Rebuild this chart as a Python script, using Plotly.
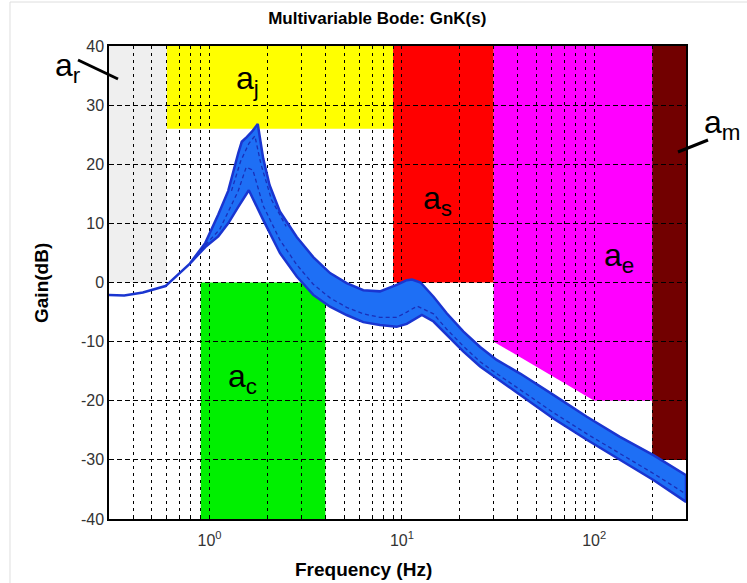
import plotly.graph_objects as go

# ---------------- data ----------------
upper_freq = [0.30, 0.36, 0.45, 0.59, 0.79, 0.95, 1.11, 1.25, 1.41, 1.47, 1.56, 1.66, 1.78,
              1.90, 2.05, 2.32, 2.84, 3.46, 4.23, 5.16, 6.30, 7.69, 9.39, 10.6, 11.3, 12.5,
              14.6, 17.1, 20.9, 25.5, 31.1, 38.0, 41.2, 61.3, 91.5, 136, 203, 300]
upper_db = [-2.1, -2.2, -1.7, -0.6, 3.2, 6.7, 11.5, 15.5, 21.9, 23.8, 24.6, 25.5, 26.8,
            21.0, 16.5, 12.0, 7.7, 4.3, 1.6, -0.1, -1.3, -1.5, -0.4, 0.4, 0.5, 0.0,
            -2.4, -5.2, -8.3, -10.9, -13.1, -14.8, -15.4, -19.0, -22.7, -26.1, -29.2, -32.6]

lower_freq = [0.30, 0.36, 0.45, 0.59, 0.79, 0.95, 1.11, 1.25, 1.41, 1.60, 1.75, 1.90,
              2.32, 2.84, 3.46, 4.23, 5.16, 6.30, 7.69, 9.39, 10.6, 12.7, 14.6, 17.1,
              20.9, 25.5, 31.1, 41.2, 61.3, 91.5, 136, 203, 300]
lower_db = [-2.1, -2.2, -1.7, -0.6, 3.2, 6.0, 7.8, 10.0, 12.8, 15.6, 13.1, 10.6,
            5.0, 1.0, -2.1, -4.1, -5.5, -6.7, -7.2, -7.5, -7.0, -5.5, -6.6, -8.9,
            -11.7, -14.2, -16.2, -19.0, -23.0, -26.6, -30.0, -33.4, -37.1]

nominal_freq = [0.90, 1.13, 1.41, 1.55, 1.68, 1.90, 2.32, 2.84, 3.46, 4.23, 5.16, 6.30,
                7.69, 9.39, 10.6, 12.0, 14.6, 17.1, 20.9, 25.5, 31.1, 41.2, 61.3, 91.5,
                136, 203, 300]
nominal_db = [5.5, 9.0, 15.5, 19.5, 19.0, 13.0, 7.2, 3.0, -0.3, -2.6, -4.2, -5.3,
              -5.9, -5.9, -5.0, -4.0, -5.3, -7.9, -10.8, -13.4, -15.4, -18.1, -22.0,
              -25.6, -29.0, -32.3, -35.8]

peak_dash_freq = [1.30, 1.45, 1.60, 1.72, 1.85, 2.10, 2.50]
peak_dash_db = [15.5, 20.5, 23.5, 24.8, 20.0, 14.0, 9.5]

# specification regions (frequency in Hz, gain in dB)
region_ar = {"f": [0.3, 0.6], "db": [0, 40]}
region_aj = {"f": [0.6, 9], "db": [26, 40]}
region_as = {"f": [9, 30], "db": [0, 40]}
region_ae_f = [30, 30, 100, 200, 200]
region_ae_db = [40, -10, -20, -20, 40]
region_am = {"f": [200, 300], "db": [-30, 40]}
region_ac = {"f": [0.9, 4], "db": [-40, 0]}

x_grid_vals = [0.4, 0.5, 0.6, 0.7, 0.8, 0.9, 1, 2, 3, 4, 5, 6, 7, 8, 9, 10,
               20, 30, 40, 50, 60, 70, 80, 90, 100, 200, 300]
x_tick_labels = {1: "10<sup>0</sup>", 10: "10<sup>1</sup>", 100: "10<sup>2</sup>"}
y_ticks = [-40, -30, -20, -10, 0, 10, 20, 30, 40]

FONT = "Liberation Sans, Arial"

# ---------------- figure ----------------
fig = go.Figure()

band_x = upper_freq + lower_freq[::-1]
band_y = upper_db + lower_db[::-1]
fig.add_trace(go.Scatter(x=band_x, y=band_y, mode="lines", fill="toself",
                         fillcolor="#1e6ff5", line=dict(color="#1a35d0", width=2.5),
                         hoverinfo="skip", showlegend=False))
fig.add_trace(go.Scatter(x=nominal_freq, y=nominal_db, mode="lines",
                         line=dict(color="#1a2fb8", width=1.3, dash="4px,3px"),
                         showlegend=False))
fig.add_trace(go.Scatter(x=peak_dash_freq, y=peak_dash_db, mode="lines",
                         line=dict(color="#1a2fb8", width=1.3, dash="4px,3px"),
                         showlegend=False))

shapes = []
def rect(reg, color):
    shapes.append(dict(type="rect", xref="x", yref="y", layer="below",
                       x0=reg["f"][0], x1=reg["f"][1], y0=reg["db"][0], y1=reg["db"][1],
                       fillcolor=color, line=dict(width=0)))

rect(region_ar, "#efefef")
rect(region_aj, "#ffff00")
rect(region_as, "#ff0000")
rect(region_am, "#720000")
rect(region_ac, "#00f000")
path = "M " + " L ".join(f"{f},{d}" for f, d in zip(region_ae_f, region_ae_db)) + " Z"
shapes.append(dict(type="path", xref="x", yref="y", layer="below", path=path,
                   fillcolor="#ff00ff", line=dict(width=0)))

# pointer lines for a_r and a_m
shapes.append(dict(type="line", xref="paper", yref="paper", layer="above",
                   x0=-0.0537, y0=0.9704, x1=0.0156, y1=0.9302,
                   line=dict(color="black", width=3)))
shapes.append(dict(type="line", xref="paper", yref="paper", layer="above",
                   x0=1.0381, y0=0.8013, x1=0.9861, y1=0.7759,
                   line=dict(color="black", width=3)))
# light window border
shapes.append(dict(type="line", xref="paper", yref="paper", layer="above",
                   x0=-0.1716, y0=1.0930, x1=1.2, y1=1.0930,
                   line=dict(color="#dedede", width=1)))
shapes.append(dict(type="line", xref="paper", yref="paper", layer="above",
                   x0=-0.1716, y0=1.0930, x1=-0.1716, y1=-0.2,
                   line=dict(color="#dedede", width=1)))

labels = [("a<sub>j</sub>", 0.2392, 0.9281), ("a<sub>s</sub>", 0.5685, 0.6744),
          ("a<sub>e</sub>", 0.8839, 0.5539), ("a<sub>c</sub>", 0.2322, 0.2960),
          ("a<sub>r</sub>", -0.0711, 0.9535), ("a<sub>m</sub>", 1.0624, 0.8330)]
annotations = [dict(text=t, x=x, y=y, xref="paper", yref="paper", showarrow=False,
                    xanchor="center", yanchor="middle",
                    font=dict(family=FONT, size=32, color="black"))
               for t, x, y in labels]
annotations.append(dict(text="<b>Gain(dB)</b>", x=-0.1161, y=0.499, xref="paper",
                        yref="paper", showarrow=False, textangle=-90,
                        xanchor="center", yanchor="middle",
                        font=dict(family=FONT, size=19, color="black")))
annotations.append(dict(text="<b>Frequency (Hz)</b>", x=0.4419, y=-0.1078, xref="paper",
                        yref="paper", showarrow=False,
                        xanchor="center", yanchor="middle",
                        font=dict(family=FONT, size=19, color="black")))

fig.update_layout(
    width=747, height=583,
    margin=dict(l=109, r=61, t=46, b=64),
    paper_bgcolor="white", plot_bgcolor="white",
    shapes=shapes, annotations=annotations,
    title=dict(text="<b>Multivariable Bode: GnK(s)</b>", x=0.505, xanchor="center",
               y=0.969, yanchor="middle",
               font=dict(family=FONT, size=17, color="black")),
    font=dict(family=FONT, color="#222"),
)

fig.update_xaxes(
    type="log", range=[-0.5229, 2.4771], automargin=False,
    tickvals=x_grid_vals, ticktext=[x_tick_labels.get(v, "") for v in x_grid_vals],
    tickfont=dict(size=16, color="#333"), ticklabelstandoff=6,
    showgrid=True, gridcolor="black", gridwidth=1, griddash="3px,4px",
    showline=True, linecolor="black", linewidth=1.5, mirror=True,
    ticks="inside", ticklen=4, tickcolor="black", zeroline=False,
)
fig.update_yaxes(
    range=[-40, 40], automargin=False, tickvals=y_ticks,
    ticktext=[str(v) for v in y_ticks],
    tickfont=dict(size=16, color="#333"),
    showgrid=True, gridcolor="black", gridwidth=1, griddash="5px,3px",
    showline=True, linecolor="black", linewidth=1.5, mirror=True,
    ticks="inside", ticklen=4, tickcolor="black", zeroline=False,
)

fig.write_html("out.html", config={"displayModeBar": False},
               post_script="document.body.style.margin='0';")
